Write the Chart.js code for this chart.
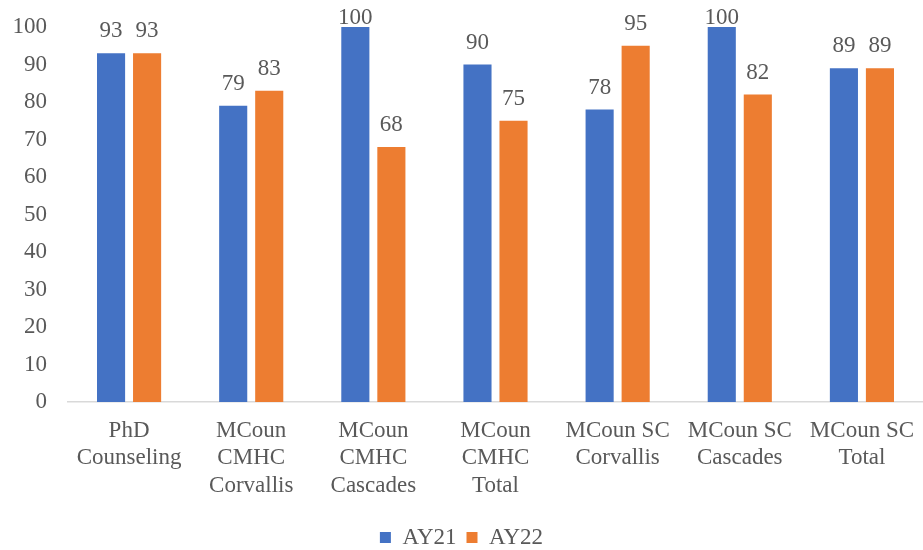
<!DOCTYPE html>
<html>
<head>
<meta charset="utf-8">
<script src="https://cdn.jsdelivr.net/npm/chart.js@4/dist/chart.umd.min.js"></script>
<style>
  html, body { margin: 0; padding: 0; background: #fff; }
  #wrap { width: 923px; height: 550px; }
</style>
</head>
<body>
<div id="wrap"><canvas id="c" width="923" height="550"></canvas></div>
<script>
const programs = [
  ['PhD', 'Counseling'],
  ['MCoun', 'CMHC', 'Corvallis'],
  ['MCoun', 'CMHC', 'Cascades'],
  ['MCoun', 'CMHC', 'Total'],
  ['MCoun SC', 'Corvallis'],
  ['MCoun SC', 'Cascades'],
  ['MCoun SC', 'Total']
];
const ay21 = [93, 79, 100, 90, 78, 100, 89];
const ay22 = [93, 83, 68, 75, 95, 82, 89];
const yTicks = [0, 10, 20, 30, 40, 50, 60, 70, 80, 90, 100];

const FONT = '"Liberation Serif", "Times New Roman", serif';
const TEXT = '#595959';

// Writes each bar's value just above its top, kept inside the canvas
const valueLabels = {
  id: 'valueLabels',
  afterDatasetsDraw(chart) {
    const ctx = chart.ctx;
    ctx.save();
    ctx.font = '23px ' + FONT;
    ctx.fillStyle = TEXT;
    ctx.textAlign = 'center';
    ctx.textBaseline = 'alphabetic';
    chart.data.datasets.forEach((ds, i) => {
      chart.getDatasetMeta(i).data.forEach((bar, j) => {
        const y = Math.max(bar.y - 16, 24);
        ctx.fillText(String(ds.data[j]), bar.x, y);
      });
    });
    ctx.restore();
  }
};

new Chart(document.getElementById('c'), {
  type: 'bar',
  data: {
    labels: programs,
    datasets: [
      { label: 'AY21', data: ay21, backgroundColor: '#4472C4' },
      { label: 'AY22', data: ay22, backgroundColor: '#ED7D31' }
    ]
  },
  options: {
    responsive: false,
    animation: false,
    devicePixelRatio: 1,
    layout: { padding: { top: 27, left: 0, right: 0, bottom: -9 } },
    datasets: {
      bar: { categoryPercentage: 0.59, barPercentage: 0.78 }
    },
    scales: {
      x: {
        afterFit(scale) {
          scale.paddingLeft = 0;
          scale.paddingRight = 0;
          scale.height = 114;
        },
        grid: { display: false, drawTicks: false },
        border: { display: true, color: '#d9d9d9', width: 1.5 },
        ticks: {
          color: TEXT,
          font: { family: FONT, size: 23, lineHeight: 1.2 },
          padding: 15,
          maxRotation: 0,
          autoSkip: false
        }
      },
      y: {
        min: 0,
        max: 100,
        afterBuildTicks(scale) { scale.ticks = yTicks.map(v => ({ value: v })); },
        afterFit(scale) {
          scale.width = 68;
          scale.paddingTop = 0;
          scale.paddingBottom = 0;
        },
        grid: { display: false, drawTicks: false },
        border: { display: false },
        ticks: {
          color: TEXT,
          font: { family: FONT, size: 23 },
          padding: 21
        }
      }
    },
    plugins: {
      tooltip: { enabled: false },
      legend: {
        position: 'bottom',
        labels: {
          color: TEXT,
          font: { family: FONT, size: 23, lineHeight: 0.4 },
          boxWidth: 11,
          boxHeight: 11,
          padding: 10
        }
      }
    }
  },
  plugins: [valueLabels]
});
</script>
</body>
</html>
